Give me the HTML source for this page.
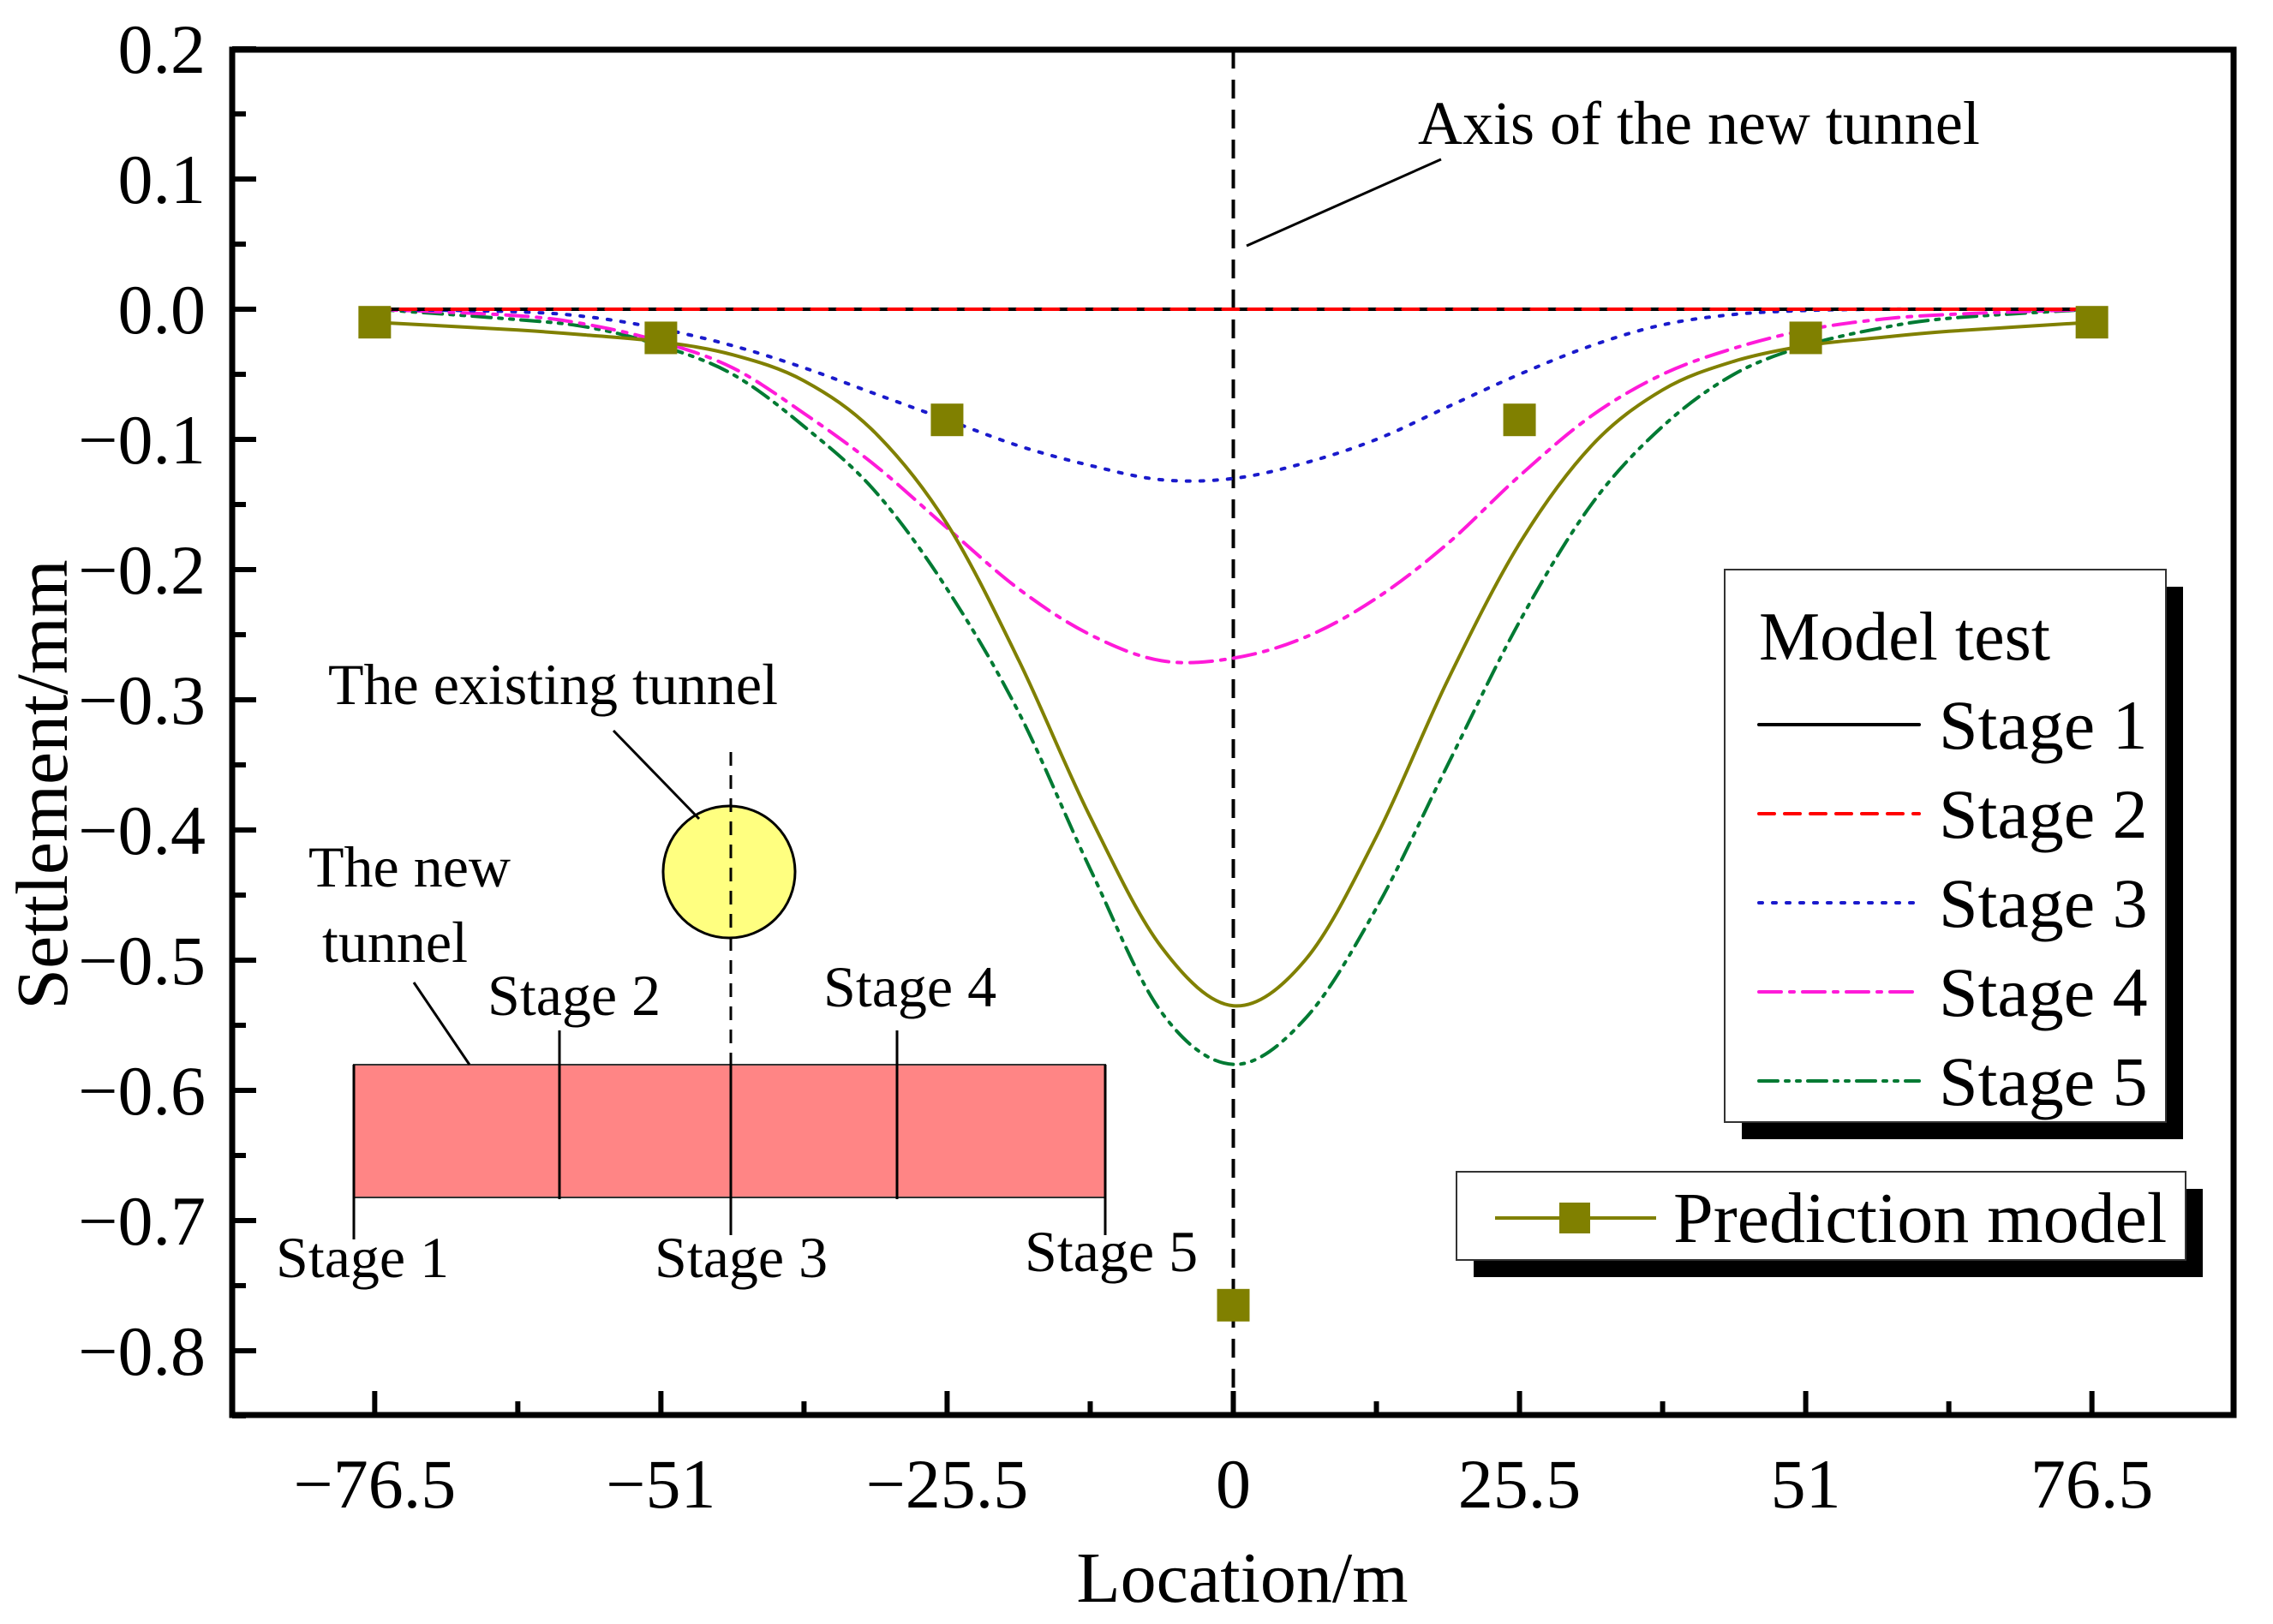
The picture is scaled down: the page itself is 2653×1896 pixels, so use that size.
<!DOCTYPE html>
<html>
<head>
<meta charset="utf-8">
<style>
html,body{margin:0;padding:0;background:#fff;}
svg{display:block;font-family:"Liberation Serif",serif;}
</style>
</head>
<body>
<svg id="chart" width="2653" height="1896" viewBox="0 0 2653 1896" xmlns="http://www.w3.org/2000/svg">
<rect x="0" y="0" width="2653" height="1896" fill="#fff"/>
<g id="plot"></g>
</svg>
<script>
// ---- data ----
const xTicks = [-76.5, -51, -25.5, 0, 25.5, 51, 76.5];
const xTickLabels = ["\u221276.5", "\u221251", "\u221225.5", "0", "25.5", "51", "76.5"];
const yTicks = [0.2, 0.1, 0.0, -0.1, -0.2, -0.3, -0.4, -0.5, -0.6, -0.7, -0.8];
const yTickLabels = ["0.2", "0.1", "0.0", "\u22120.1", "\u22120.2", "\u22120.3", "\u22120.4", "\u22120.5", "\u22120.6", "\u22120.7", "\u22120.8"];
const xs = [-76.5, -63.75, -57.4, -51, -44.6, -38.25, -31.9, -25.5, -19.1, -12.75, -6.4, 0, 6.4, 12.75, 19.1, 25.5, 31.9, 38.25, 44.6, 51, 57.4, 63.75, 76.5];
const stage1 = [0,0,0,0,0,0,0,0,0,0,0,0,0,0,0,0,0,0,0,0,0,0,0];
const stage2 = [0,0,0,0,0,0,0,0,0,0,0,0,0,0,0,0,0,0,0,0,0,0,0];
const stage3 = [0, -0.002, -0.006, -0.015, -0.028, -0.045, -0.065, -0.085, -0.105, -0.12, -0.131, -0.13, -0.118, -0.1, -0.075, -0.05, -0.028, -0.012, -0.004, -0.001, 0, 0, 0];
const stage4 = [0, -0.005, -0.012, -0.025, -0.045, -0.08, -0.12, -0.168, -0.215, -0.25, -0.27, -0.268, -0.252, -0.222, -0.18, -0.128, -0.082, -0.05, -0.03, -0.016, -0.008, -0.004, 0];
const stage5 = [0, -0.008, -0.014, -0.028, -0.05, -0.09, -0.14, -0.215, -0.31, -0.43, -0.54, -0.58, -0.545, -0.46, -0.35, -0.24, -0.15, -0.09, -0.05, -0.028, -0.015, -0.007, 0];
const predCurve = [-0.01, -0.016, -0.02, -0.025, -0.035, -0.055, -0.095, -0.165, -0.27, -0.39, -0.49, -0.535, -0.5, -0.405, -0.285, -0.18, -0.105, -0.062, -0.04, -0.028, -0.022, -0.017, -0.01];
const predX = [-76.5, -51, -25.5, 0, 25.5, 51, 76.5];
const predY = [-0.01, -0.022, -0.085, -0.765, -0.085, -0.022, -0.01];

// ---- axes ----
const L = 271, R = 2607, T = 58, B = 1652;
const X0 = 1439.5, XS = 13.1;
const Y0 = 361, YS = 1520;
const xp = v => X0 + v * XS;
const yp = v => Y0 - v * YS;
const NS = "http://www.w3.org/2000/svg";
const g = document.getElementById('plot');
function mk(tag, attrs, parent) {
  const el = document.createElementNS(NS, tag);
  for (const k in attrs) el.setAttribute(k, attrs[k]);
  (parent || g).appendChild(el);
  return el;
}
function smooth(xArr, yArr) {
  const P = xArr.map((x, i) => [xp(x), yp(yArr[i])]);
  let d = "M" + P[0][0].toFixed(1) + "," + P[0][1].toFixed(1);
  for (let i = 0; i < P.length - 1; i++) {
    const p0 = P[Math.max(0, i - 1)], p1 = P[i], p2 = P[i + 1], p3 = P[Math.min(P.length - 1, i + 2)];
    const c1 = [p1[0] + (p2[0] - p0[0]) / 6, p1[1] + (p2[1] - p0[1]) / 6];
    const c2 = [p2[0] - (p3[0] - p1[0]) / 6, p2[1] - (p3[1] - p1[1]) / 6];
    d += " C" + c1[0].toFixed(1) + "," + c1[1].toFixed(1) + " " + c2[0].toFixed(1) + "," + c2[1].toFixed(1) + " " + p2[0].toFixed(1) + "," + p2[1].toFixed(1);
  }
  return d;
}

// inset diagram (behind curves)
let e;
e = mk('rect', {x: 413, y: 1243, width: 877, height: 155, fill: '#ff8585', stroke: '#333', 'stroke-width': 2});


const insetLines = [[413,1243,413,1447],[1290,1243,1290,1442],[653,1203,653,1400],[853,1243,853,1442],[1047,1203,1047,1400]];
insetLines.forEach(l => {
  e = mk('line', {x1: l[0], y1: l[1], x2: l[2], y2: l[3], stroke: '#000', 'stroke-width': 3});
  
  
});
e = mk('ellipse', {cx: 851, cy: 1018, rx: 77, ry: 77, fill: '#ffff80', stroke: '#000', 'stroke-width': 3});


e = mk('line', {x1: 853, y1: 878, x2: 853, y2: 1243, stroke: '#000', 'stroke-width': 3, 'stroke-dasharray': '16,11'});


e = mk('line', {x1: 716, y1: 853, x2: 816, y2: 956, stroke: '#000', 'stroke-width': 3});


e = mk('line', {x1: 483, y1: 1147, x2: 548, y2: 1243, stroke: '#000', 'stroke-width': 3});


const insetText = [["The existing tunnel", 383, 822, 'existing-tunnel-label'], ["The new", 360, 1035, 'new-tunnel-label-1'], ["tunnel", 376, 1123, 'new-tunnel-label-2'],
  ["Stage 2", 569, 1185, 'inset-stage-2'], ["Stage 4", 961, 1175, 'inset-stage-4'], ["Stage 1", 322, 1491, 'inset-stage-1'], ["Stage 3", 764, 1491, 'inset-stage-3'], ["Stage 5", 1196, 1484, 'inset-stage-5']];
insetText.forEach(t => {
  e = mk('text', {x: t[1], y: t[2], 'font-size': 68, fill: '#000'});
  e.textContent = t[0];
  
  
});

// axis of new tunnel
e = mk('line', {x1: xp(0), y1: T, x2: xp(0), y2: B, stroke: '#000', 'stroke-width': 4, 'stroke-dasharray': '22,13'});


e = mk('line', {x1: 1455, y1: 287, x2: 1682, y2: 186, stroke: '#000', 'stroke-width': 3});


e = mk('text', {x: 1655, y: 168, 'font-size': 72, fill: '#000'});
e.textContent = "Axis of the new tunnel";



// series
const series = [
  [stage5, '#007a33', '22,9,4,9,4,9', 'stage-5-line'],
  [stage4, '#ff1ad9', '26,10,5,10', 'stage-4-line'],
  [stage3, '#1a1acc', '4,12', 'stage-3-line'],
  [predCurve, '#808000', 'none', 'prediction-curve'],
  [stage1, '#000', 'none', 'stage-1-line'],
  [stage2, '#ff0000', '18,12', 'stage-2-line']
];
series.forEach(s => {
  e = mk('path', {d: smooth(xs, s[0]), fill: 'none', stroke: s[1], 'stroke-width': 4, 'stroke-dasharray': s[2], 'stroke-linecap': 'round'});
  
  
});
predX.forEach((x, i) => {
  e = mk('rect', {x: xp(x) - 19, y: yp(predY[i]) - 19, width: 38, height: 38, fill: '#808000'});
  
  
});

// frame
e = mk('rect', {x: L, y: T, width: R - L, height: B - T, fill: 'none', stroke: '#000', 'stroke-width': 7});



// x ticks
xTicks.forEach((v, i) => {
  e = mk('line', {x1: xp(v), y1: B, x2: xp(v), y2: B - 28, stroke: '#000', 'stroke-width': 6});
  
  
  e = mk('text', {x: xp(v), y: B + 108, 'font-size': 82, 'text-anchor': 'middle', fill: '#000'});
  e.textContent = xTickLabels[i];
  
  
  if (i < xTicks.length - 1) {
    e = mk('line', {x1: xp(v + 12.75), y1: B, x2: xp(v + 12.75), y2: B - 16, stroke: '#000', 'stroke-width': 6});
    
    
  }
});
// y ticks
yTicks.forEach((v, i) => {
  e = mk('line', {x1: L, y1: yp(v), x2: L + 28, y2: yp(v), stroke: '#000', 'stroke-width': 6});
  
  
  e = mk('text', {x: 240, y: yp(v) + 28, 'font-size': 82, 'text-anchor': 'end', fill: '#000'});
  e.textContent = yTickLabels[i];
  
  
  e = mk('line', {x1: L, y1: yp(v - 0.05), x2: L + 16, y2: yp(v - 0.05), stroke: '#000', 'stroke-width': 6});
  
  
});

// axis titles
e = mk('text', {x: 1450, y: 1870, 'font-size': 84, 'text-anchor': 'middle', fill: '#000'});
e.textContent = "Location/m";


e = mk('text', {x: 0, y: 0, 'font-size': 86, 'text-anchor': 'middle', fill: '#000', transform: 'translate(78,916) rotate(-90)'});
e.textContent = "Settlement/mm";



// legend 1
e = mk('rect', {x: 2033, y: 685, width: 515, height: 645, fill: '#000'});


e = mk('rect', {x: 2013, y: 665, width: 515, height: 645, fill: '#fff', stroke: '#333', 'stroke-width': 2});


e = mk('text', {x: 2053, y: 770, 'font-size': 80, fill: '#000'});
e.textContent = "Model test";


const legNames = ["Stage 1", "Stage 2", "Stage 3", "Stage 4", "Stage 5"];
const legColors = ['#000', '#ff0000', '#1a1acc', '#ff1ad9', '#007a33'];
const legDash = ['none', '18,12', '4,12', '26,10,5,10', '22,9,4,9,4,9'];
legNames.forEach((n, i) => {
  const cy = 846 + i * 104;
  e = mk('line', {x1: 2053, y1: cy, x2: 2240, y2: cy, stroke: legColors[i], 'stroke-width': 4, 'stroke-dasharray': legDash[i], 'stroke-linecap': 'round'});
  
  
  e = mk('text', {x: 2263, y: cy + 28, 'font-size': 82, fill: '#000'});
  e.textContent = n;
  
  
});
// legend 2
e = mk('rect', {x: 1720, y: 1388, width: 851, height: 103, fill: '#000'});


e = mk('rect', {x: 1700, y: 1368, width: 851, height: 103, fill: '#fff', stroke: '#333', 'stroke-width': 2});


e = mk('line', {x1: 1745, y1: 1422, x2: 1933, y2: 1422, stroke: '#808000', 'stroke-width': 4});


e = mk('rect', {x: 1820, y: 1404, width: 36, height: 36, fill: '#808000'});


e = mk('text', {x: 1953, y: 1450, 'font-size': 84, fill: '#000'});
e.textContent = "Prediction model";


</script>
</body>
</html>
